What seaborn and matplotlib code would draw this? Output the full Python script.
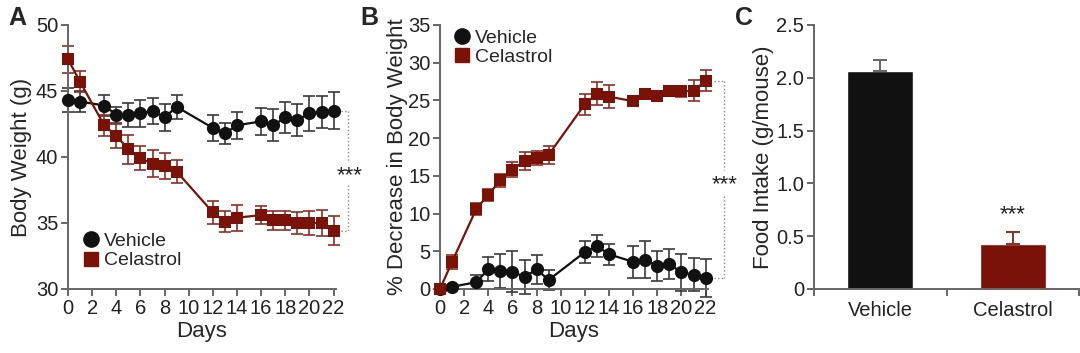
import numpy as np
import pandas as pd
import seaborn as sns
import matplotlib
matplotlib.use('Agg')
from matplotlib import pyplot as plt
from matplotlib.lines import Line2D

# data
days = [0, 1, 3, 4, 5, 6, 7, 8, 9, 12, 13, 14, 16, 17, 18, 19, 20, 21, 22]

bw_vehicle = [44.3, 44.2, 43.9, 43.2, 43.2, 43.3, 43.5, 43.0, 43.8, 42.2, 41.8, 42.4, 42.7, 42.4, 43.0, 42.8, 43.3, 43.4, 43.5]
bw_vehicle_err = [0.9, 0.8, 0.8, 0.6, 0.9, 1.0, 1.0, 1.0, 0.9, 1.0, 0.8, 1.0, 1.0, 1.2, 1.2, 1.2, 1.3, 1.2, 1.4]
bw_celastrol = [47.4, 45.7, 42.4, 41.6, 40.6, 39.9, 39.5, 39.3, 38.9, 35.8, 35.1, 35.4, 35.6, 35.2, 35.2, 35.0, 35.0, 35.0, 34.4]
bw_celastrol_err = [1.0, 0.8, 0.8, 0.9, 1.1, 0.9, 1.0, 1.0, 0.9, 0.9, 0.8, 1.0, 0.7, 0.7, 0.7, 0.8, 0.9, 1.0, 1.1]

dec_vehicle = [0.0, 0.3, 0.9, 2.6, 2.4, 2.3, 1.6, 2.6, 1.2, 4.9, 5.7, 4.6, 3.6, 3.9, 3.0, 3.3, 2.2, 1.9, 1.5]
dec_vehicle_err = [0.3, 0.2, 0.9, 1.6, 2.3, 2.7, 2.3, 1.9, 1.3, 1.5, 1.5, 1.4, 2.1, 2.5, 2.0, 2.0, 2.4, 2.2, 2.5]
dec_celastrol = [0.0, 3.6, 10.6, 12.5, 14.4, 15.8, 17.0, 17.4, 17.8, 24.5, 25.9, 25.5, 24.9, 25.8, 25.6, 26.2, 26.2, 26.3, 27.6]
dec_celastrol_err = [0.5, 0.9, 0.8, 0.8, 0.9, 1.0, 1.2, 0.9, 1.2, 1.4, 1.5, 1.5, 0.6, 0.4, 0.6, 0.6, 0.7, 1.4, 1.4]

groups = ['Vehicle', 'Celastrol']
food = [2.06, 0.43]
food_err = [0.11, 0.11]

BLACK = '#111111'
RED = '#7a1208'
RED_ERR = '#8e2e25'
GREY = '#666666'

sns.set_style('ticks')
plt.rcParams['font.family'] = ['Liberation Sans', 'DejaVu Sans']

fig = plt.figure(figsize=(10.8, 3.53), dpi=100)
bottom = 1 - 289 / 353
height = 264 / 353
axA = fig.add_axes([68 / 1080, bottom, 268 / 1080, height])
axB = fig.add_axes([440 / 1080, bottom, 268 / 1080, height])
axC = fig.add_axes([814 / 1080, bottom, 265 / 1080, height])


def style_axes(ax):
    sns.despine(ax=ax)
    for s in ['left', 'bottom']:
        ax.spines[s].set_color(GREY)
        ax.spines[s].set_linewidth(1.4)
    ax.tick_params(colors=GREY, labelcolor='#222222', labelsize=14.5, width=1.4, length=5, pad=2)


def time_course(ax, veh, veh_err, cel, cel_err):
    ax.errorbar(days, veh, yerr=veh_err, fmt='none', ecolor='#3a3a3a', elinewidth=1.2,
                capsize=4.5, capthick=1.2, clip_on=False, zorder=2)
    ax.errorbar(days, cel, yerr=cel_err, fmt='none', ecolor=RED_ERR, elinewidth=1.2,
                capsize=4.5, capthick=1.2, clip_on=False, zorder=2)
    sns.lineplot(x=days, y=veh, ax=ax, color=BLACK, marker='o', markersize=9.5,
                 markeredgewidth=0, linewidth=1.6, clip_on=False, zorder=3)
    sns.lineplot(x=days, y=cel, ax=ax, color=RED, marker='s', markersize=9,
                 markeredgewidth=0, linewidth=1.6, clip_on=False, zorder=3)
    ax.set_xlim(0, 22.2)
    ax.set_xticks(range(0, 23, 2))
    ax.set_xlabel('Days', fontsize=16, labelpad=2)
    style_axes(ax)


def legend(ax, anchor):
    handles = [Line2D([], [], color=BLACK, marker='o', markersize=11, linestyle='none'),
               Line2D([], [], color=RED, marker='s', markersize=10.5, linestyle='none')]
    ax.legend(handles, groups, loc='upper left', bbox_to_anchor=anchor, frameon=False,
              fontsize=14, handlelength=0.6, handletextpad=0.35, labelspacing=0.1,
              borderaxespad=0, borderpad=0)


def bracket(ax, x0, x1, ytop, ybot, gap_hi, gap_lo, ytext, xtext):
    kw = dict(color='#888888', linestyle=':', linewidth=1.0, clip_on=False)
    ax.plot([x0, x1], [ytop, ytop], **kw)
    ax.plot([x0, x1], [ybot, ybot], **kw)
    ax.plot([x1, x1], [ytop, gap_hi], **kw)
    ax.plot([x1, x1], [gap_lo, ybot], **kw)
    ax.text(xtext, ytext, '***', ha='center', va='center', fontsize=16, color='#222222')


# A: body weight
time_course(axA, bw_vehicle, bw_vehicle_err, bw_celastrol, bw_celastrol_err)
axA.set_ylim(30, 50)
axA.set_yticks([30, 35, 40, 45, 50])
axA.set_ylabel('Body Weight (g)', fontsize=16, labelpad=3)
legend(axA, (0.065, 0.215))
bracket(axA, 22.6, 23.2, bw_vehicle[-1], bw_celastrol[-1], 39.7, 37.9, 38.6, 23.3)

# B: % decrease
time_course(axB, dec_vehicle, dec_vehicle_err, dec_celastrol, dec_celastrol_err)
axB.set_ylim(0, 35)
axB.set_yticks([0, 5, 10, 15, 20, 25, 30, 35])
axB.set_ylabel('% Decrease in Body Weight', fontsize=16, labelpad=0)
legend(axB, (0.06, 0.985))
bracket(axB, 22.7, 23.5, dec_celastrol[-1], dec_vehicle[-1], 15.8, 12.3, 13.8, 23.6)

# C: food intake
food_df = pd.DataFrame({'group': groups, 'intake': food})
sns.barplot(data=food_df, x='group', y='intake', hue='group', palette=[BLACK, RED],
            width=0.5, legend=False, ax=axC, errorbar=None, saturation=1)
for i, col in enumerate([GREY, RED_ERR]):
    axC.errorbar([i], [food[i]], yerr=[[0], [food_err[i]]], fmt='none', ecolor=col,
                 elinewidth=1.4, capsize=5, capthick=1.4, zorder=1)
axC.set_xlim(-0.5, 1.5)
axC.set_ylim(0, 2.5)
axC.set_yticks([0, 0.5, 1.0, 1.5, 2.0, 2.5])
axC.set_yticklabels(['0', '0.5', '1.0', '1.5', '2.0', '2.5'])
axC.set_xlabel('')
axC.set_ylabel('Food Intake (g/mouse)', fontsize=16, labelpad=2)
style_axes(axC)
axC.set_xticks([-0.5, 0.5, 1.5], minor=True)
axC.tick_params(axis='x', which='major', length=0, pad=9)
axC.tick_params(axis='x', which='minor', length=5, width=1.4, colors=GREY)
axC.text(1, 0.7, '***', ha='center', va='center', fontsize=16, color='#222222')

# panel letters
for x, letter in [(8, 'A'), (360, 'B'), (735, 'C')]:
    fig.text(x / 1080, 1 - 18 / 353, letter, fontsize=18, fontweight='bold',
             ha='left', va='center')

fig.savefig('out.png', dpi=100)
